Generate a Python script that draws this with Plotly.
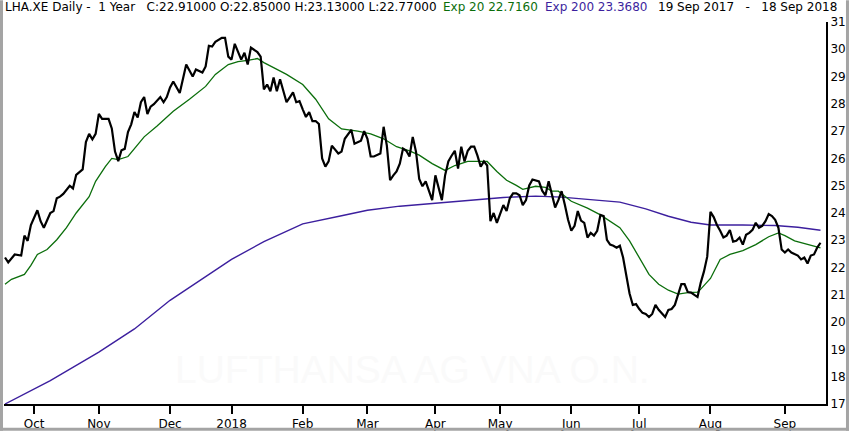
import pandas as pd
import plotly.graph_objects as go

# ---------------- data ----------------
start_date = "2017-09-19"
end_date = "2018-09-18"
exchange_holidays = ["2017-10-03", "2017-10-31", "2017-12-25", "2017-12-26",
                     "2018-01-01", "2018-03-30", "2018-04-02", "2018-05-01"]

# trading-session number (0 = 19 Sep 2017) and close
price_session = [0, 1, 3, 5, 6, 7, 8, 10, 11, 12, 14, 15, 16, 17, 18, 20, 21, 22, 24, 25,
                 26, 27, 28, 29, 30, 32, 33, 34, 35, 36, 37, 38, 39, 40, 41, 42, 43, 44, 45, 46,
                 48, 49, 50, 51, 52, 54, 56, 57, 58, 59, 61, 62, 63, 64, 65, 67, 68, 69, 70, 71,
                 72, 73, 74, 75, 76, 78, 79, 80, 81, 82, 83, 84, 85, 87, 88, 89, 90, 91, 92, 93,
                 94, 95, 96, 97, 98, 99, 100, 101, 103, 104, 105, 107, 108, 110, 111, 112, 113, 114, 116, 117,
                 118, 119, 120, 121, 122, 123, 124, 125, 126, 127, 128, 129, 130, 131, 132, 133, 134, 135, 136, 137,
                 138, 139, 140, 141, 142, 143, 144, 145, 146, 147, 148, 149, 150, 151, 152, 153, 154, 155, 156, 157,
                 158, 159, 160, 161, 162, 163, 164, 165, 166, 167, 168, 169, 170, 171, 172, 173, 174, 175, 176, 177,
                 178, 179, 180, 181, 182, 183, 184, 185, 186, 187, 188, 189, 190, 191, 192, 193, 194, 195, 196, 197,
                 198, 199, 200, 201, 202, 203, 204, 205, 206, 207, 208, 209, 210, 211, 212, 213, 214, 215, 216, 217,
                 218, 219, 220, 221, 222, 223, 224, 225, 226, 227, 228, 229, 230, 231, 232, 233, 234, 235, 236, 237,
                 238, 239, 240, 241, 242, 243, 244, 245, 246, 247, 248, 249, 250, 251, 252]
price_close = [22.37, 22.19, 22.48, 22.44, 23.17, 22.98, 23.56, 24.10, 23.70, 23.46, 24.00, 24.07, 24.54, 24.60, 24.70, 25.00, 24.90, 25.40, 25.60, 26.60,
               26.90, 26.70, 26.90, 27.63, 27.45, 27.45, 27.10, 26.25, 25.90, 26.30, 26.35, 26.97, 27.25, 27.70, 27.50, 28.06, 28.25, 27.63, 27.90, 27.99,
               28.25, 28.06, 28.25, 28.60, 28.82, 28.40, 29.44, 29.19, 29.00, 29.26, 29.15, 29.37, 30.13, 30.10, 30.27, 30.42, 30.42, 29.73, 29.62, 30.20,
               29.87, 29.62, 29.87, 29.44, 30.06, 29.90, 29.73, 28.53, 28.71, 28.46, 28.97, 28.46, 28.90, 28.06, 28.24, 28.42, 28.06, 28.10, 27.80, 27.52,
               27.70, 27.37, 27.37, 27.26, 26.00, 25.70, 25.89, 26.47, 26.18, 26.25, 26.72, 27.05, 26.54, 26.65, 27.00, 26.72, 26.07, 26.07, 26.18, 27.16,
               26.47, 25.20, 25.38, 25.52, 25.81, 26.36, 26.28, 26.07, 26.79, 26.25, 25.25, 24.98, 25.16, 24.83, 24.47, 25.38, 24.95, 24.47, 25.38, 25.89,
               26.10, 26.28, 25.63, 26.43, 25.89, 26.28, 26.43, 26.43, 26.10, 25.70, 25.89, 25.74, 23.70, 24.00, 23.64, 24.00, 24.29, 24.07, 24.54, 24.72,
               24.72, 24.65, 24.29, 24.47, 25.01, 25.23, 25.20, 25.16, 24.82, 24.65, 25.16, 24.65, 24.20, 24.47, 24.80, 24.30, 23.75, 23.35, 23.53, 24.07,
               23.72, 23.64, 23.10, 23.27, 23.17, 23.35, 23.93, 23.89, 23.02, 22.84, 22.80, 22.73, 22.80, 22.37, 21.75, 21.05, 20.63, 20.66, 20.48, 20.34,
               20.30, 20.19, 20.30, 20.63, 20.45, 20.30, 20.19, 20.45, 20.48, 20.63, 20.99, 21.39, 21.39, 21.10, 21.08, 20.99, 20.92, 21.45, 21.86, 22.40,
               24.04, 23.85, 23.56, 23.35, 23.10, 23.17, 23.38, 22.95, 22.98, 23.10, 22.84, 23.20, 23.27, 23.38, 23.64, 23.46, 23.53, 23.70, 23.96, 23.89,
               23.75, 23.46, 22.66, 22.55, 22.66, 22.55, 22.48, 22.44, 22.30, 22.37, 22.15, 22.44, 22.48, 22.73, 22.91]

ema20_session = [0, 2, 6, 8, 10, 13, 16, 19, 22, 26, 28, 31, 33, 35, 38, 40, 43, 47, 52, 57,
                 62, 65, 69, 72, 75, 78, 80, 83, 87, 92, 96, 100, 104, 109, 113, 117, 121, 125, 128, 132,
                 136, 139, 143, 147, 149, 152, 155, 158, 160, 164, 167, 169, 171, 175, 180, 184, 187, 190, 193, 196,
                 199, 202, 205, 208, 211, 214, 215, 218, 221, 224, 228, 232, 236, 239, 241, 244, 248, 251, 252]
ema20_value = [21.39, 21.57, 21.75, 22.08, 22.48, 22.66, 23.02, 23.46, 24.00, 24.60, 25.16, 25.70, 26.00, 25.96, 26.07, 26.36, 26.79, 27.19, 27.73, 28.17,
               28.64, 29.08, 29.44, 29.55, 29.59, 29.66, 29.51, 29.33, 29.08, 28.71, 28.17, 27.45, 27.08, 27.00, 26.90, 26.72, 26.43, 26.28, 26.12, 25.81,
               25.56, 25.74, 25.89, 25.89, 25.89, 25.52, 25.20, 25.01, 24.87, 24.98, 24.94, 24.80, 24.80, 24.43, 24.18, 23.93, 23.71, 23.46, 22.98, 22.37,
               21.75, 21.39, 21.17, 21.03, 21.08, 21.10, 21.21, 21.60, 22.30, 22.48, 22.62, 22.84, 23.13, 23.27, 23.17, 22.98, 22.84, 22.73, 22.72]

ema200_session = [0, 14, 29, 40, 51, 60, 70, 80, 92, 104, 112, 122, 133, 143, 154, 164, 172, 180, 190, 198,
                  205, 212, 218, 228, 238, 245, 252]
ema200_value = [17.00, 17.86, 18.90, 19.75, 20.80, 21.50, 22.30, 22.95, 23.60, 23.90, 24.10, 24.25, 24.36, 24.45, 24.57, 24.62, 24.58, 24.50, 24.40, 24.15,
                23.88, 23.66, 23.56, 23.56, 23.54, 23.48, 23.37]

year_label = "2018"
month_labels = {10: "Oct", 11: "Nov", 12: "Dec", 1: year_label, 2: "Feb", 3: "Mar",
                4: "Apr", 5: "May", 6: "Jun", 7: "Jul", 8: "Aug", 9: "Sep"}
y_ticks = list(range(17, 32))

header_main = "LHA.XE Daily -\u00a0 1 Year\u00a0\u00a0 C:22.91000 O:22.85000 H:23.13000 L:22.77000"
header_ema20 = "Exp 20 22.7160"
header_ema200 = "Exp 200 23.3680"
header_dates = "19 Sep 2017\u00a0\u00a0 -\u00a0\u00a0 18 Sep 2018"
watermark = "LUFTHANSA AG VNA O.N."

# ---------------- calendar -> month tick positions ----------------
sessions = pd.bdate_range(start_date, end_date)
sessions = sessions[~sessions.isin(pd.to_datetime(exchange_holidays))]
tick_vals, tick_text = [], []
for i in range(1, len(sessions)):
    if sessions[i].month != sessions[i - 1].month:
        tick_vals.append(i)
        tick_text.append(month_labels[sessions[i].month])

# ---------------- figure ----------------
W, H = 850, 435
ML, MR, MT, MB = 4, 23, 22, 27
PW, PH = W - ML - MR, H - MT - MB


def px(x):
    return (x - ML) / PW


def py(y):
    return 1 - (y - MT) / PH


GREEN = "#0b6e0b"
PURPLE = "#3c1f9e"
FONT = "DejaVu Sans"
FS = 12

fig = go.Figure()
fig.add_trace(go.Scatter(x=ema200_session, y=ema200_value, mode="lines",
                         line=dict(color=PURPLE, width=1.4), hoverinfo="skip"))
fig.add_trace(go.Scatter(x=ema20_session, y=ema20_value, mode="lines",
                         line=dict(color=GREEN, width=1.3), hoverinfo="skip"))
fig.add_trace(go.Scatter(x=price_session, y=price_close, mode="lines",
                         line=dict(color="black", width=2.2), hoverinfo="skip"))

x_left = -1 / 3.24
x_right = x_left + PW / 3.24

fig.update_layout(
    width=W, height=H,
    margin=dict(l=ML, r=MR, t=MT, b=MB),
    paper_bgcolor="white", plot_bgcolor="white",
    showlegend=False,
    font=dict(family=FONT, size=FS, color="black"),
    xaxis=dict(range=[x_left, x_right], tickvals=tick_vals, ticktext=tick_text,
               showgrid=False, zeroline=False, showline=True, linecolor="black", linewidth=2,
               ticks="outside", ticklen=8, tickwidth=2, tickcolor="black",
               tickfont=dict(family=FONT, size=FS, color="black")),
    yaxis=dict(range=[17, 31], side="right", tickvals=y_ticks,
               showgrid=False, zeroline=False, showline=True, linecolor="black", linewidth=2,
               ticks="", tickfont=dict(family=FONT, size=FS, color="black")),
)

annots = [
    dict(text=header_main, x=px(3), xanchor="left", color="black"),
    dict(text=header_ema20, x=px(442), xanchor="left", color=GREEN),
    dict(text=header_ema200, x=px(544), xanchor="left", color=PURPLE),
    dict(text=header_dates, x=px(840), xanchor="right", color="black"),
]
for a in annots:
    fig.add_annotation(xref="paper", yref="paper", y=py(7), yanchor="middle",
                       showarrow=False, text=a["text"], x=a["x"], xanchor=a["xanchor"],
                       font=dict(family=FONT, size=FS, color=a["color"]))

fig.add_annotation(xref="paper", yref="paper", x=px(413), y=py(373), xanchor="center",
                   yanchor="middle", showarrow=False, text=watermark,
                   font=dict(family="Liberation Sans", size=39, color="#fafafa"))

# grey window frame
frame = "#a4a4a4"
fig.add_shape(type="line", xref="paper", yref="paper", x0=px(1.5), x1=px(1.5), y0=py(0), y1=py(435),
              line=dict(color=frame, width=3))
fig.add_shape(type="line", xref="paper", yref="paper", x0=px(0), x1=px(850), y0=py(433.5), y1=py(433.5),
              line=dict(color=frame, width=3))
fig.add_shape(type="line", xref="paper", yref="paper", x0=px(848.5), x1=px(848.5), y0=py(0), y1=py(435),
              line=dict(color=frame, width=3))

fig.write_html("out.html", config={"displayModeBar": False},
               post_script="document.body.style.margin='0';document.body.style.overflow='hidden';")
